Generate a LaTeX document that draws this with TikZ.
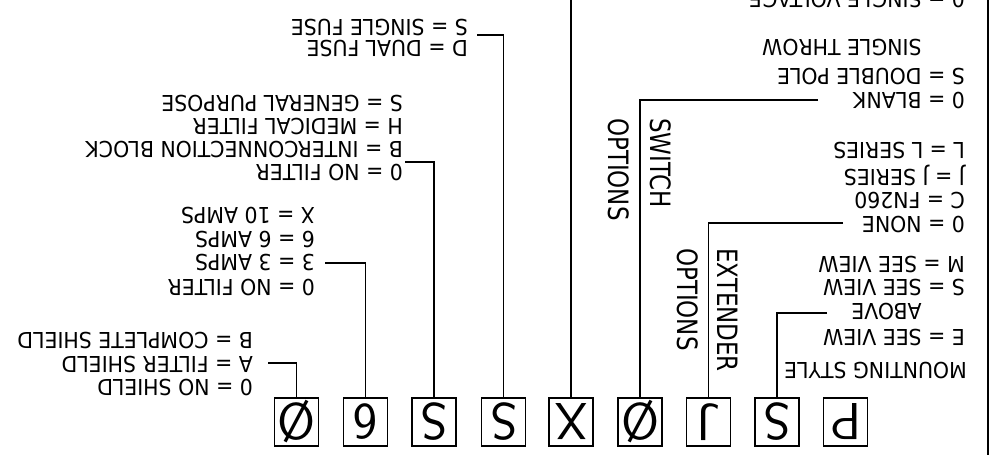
\documentclass[tikz,border=0pt]{standalone}
\usepackage{fontspec}
\usepackage{graphicx}
\newfontfamily\cadfont{DejaVu Sans}[FakeStretch=0.93]
\newfontfamily\cadtall{DejaVu Sans}[FakeStretch=0.82]
\newfontfamily\boxfont{lmsans17-regular.otf}[FakeStretch=1.0]
\tikzset{
  lbl/.style={rotate=180, anchor=base west, inner sep=0pt, font=\cadfont\fontsize{22}{22}\selectfont},
  vlbl/.style={rotate=-90, anchor=base west, inner sep=0pt, font=\cadtall\fontsize{28}{28}\selectfont},
  charbox/.style={draw, line width=1.3pt, minimum width=44pt, minimum height=48pt, inner sep=0pt, font=\boxfont\fontsize{52}{52}\selectfont},
  lead/.style={line width=1.3pt},
}
\newcommand\flipchar[1]{\rotatebox[origin=c]{180}{#1}}
\begin{document}
\begin{tikzpicture}[x=1pt,y=-1pt]
\useasboundingbox (0,0) rectangle (993,459);
\fill[white] (0,0) rectangle (993,459);
\clip (0,0) rectangle (993,459);

% code boxes
\node[charbox] (b1) at (296.5,422) {\flipchar{Ø}};
\node[charbox] (b2) at (365.5,422) {\flipchar{6}};
\node[charbox] (b3) at (434,422) {\flipchar{S}};
\node[charbox] (b4) at (503.5,422) {\flipchar{S}};
\node[charbox] (b5) at (571,422) {\flipchar{X}};
\node[charbox] (b6) at (640,422) {\flipchar{Ø}};
\node[charbox] (b7) at (708.5,422) {\flipchar{J}};
\node[charbox] (b8) at (777,422) {\flipchar{S}};
\node[charbox] (b9) at (845.5,422) {\flipchar{P}};

% shield
\node[lbl] (s1) at (253,332) {B = COMPLETE SHIELD};
\node[lbl] (s2) at (253,356) {A = FILTER SHIELD};
\node[lbl] (s3) at (253,379) {0 = NO SHIELD};
\coordinate (c1) at (268,363);
\draw[lead] (c1) -| (b1.north);

% amps
\node[lbl] (a1) at (315,207.5) {X = 10 AMPS};
\node[lbl] (a2) at (315,231) {6 = 6 AMPS};
\node[lbl] (a3) at (315,254) {3 = 3 AMPS};
\node[lbl] (a4) at (315,279) {0 = NO FILTER};
\coordinate (c2) at (325,263);
\draw[lead] (c2) -| (b2.north);

% filter
\node[lbl] (f1) at (403,95) {S = GENERAL PURPOSE};
\node[lbl] (f2) at (403,118) {H = MEDICAL FILTER};
\node[lbl] (f3) at (403,141) {B = INTERCONNECTION BLOCK};
\node[lbl] (f4) at (403,164) {0 = NO FILTER};
\coordinate (c3) at (405,162);
\draw[lead] (c3) -| (b3.north);

% fuse
\node[lbl] (u1) at (468,19) {S = SINGLE FUSE};
\node[lbl] (u2) at (468,40) {D = DUAL FUSE};
\coordinate (c4) at (477,35);
\draw[lead] (c4) -| (b4.north);

% X line to top
\coordinate (c5) at (571,-3);
\draw[lead] (c5) -- (b5.north);

% switch options
\node[lbl] (w0) at (965,-9) {0 = SINGLE VOLTAGE};
\node[lbl] (w1) at (965,39) {\phantom{S = }SINGLE THROW};
\node[lbl] (w2) at (965,68) {S = DOUBLE POLE};
\node[lbl] (w3) at (965,92) {0 = BLANK};
\coordinate (c6) at (818,100);
\draw[lead] (c6) -| (b6.north);
\node[vlbl] (v1) at (650,118) {SWITCH};
\node[vlbl] (v2) at (608,118) {OPTIONS};

% extender options
\node[lbl] (e1) at (965,142) {L = L SERIES};
\node[lbl] (e2) at (965,169) {J = J SERIES};
\node[lbl] (e3) at (965,192) {C = FN260};
\node[lbl] (e4) at (965,216) {0 = NONE};
\coordinate (c7) at (843,223);
\draw[lead] (c7) -| (b7.north);
\node[vlbl] (v3) at (717,248) {EXTENDER};
\node[vlbl] (v4) at (677,248) {OPTIONS};

% mounting style
\node[lbl] (m1) at (965,256) {M = SEE VIEW};
\node[lbl] (m2) at (965,279) {S = SEE VIEW};
\node[lbl] (m3) at (965,303) {\phantom{E = }ABOVE};
\node[lbl] (m4) at (965,329) {E = SEE VIEW};
\node[lbl] (m5) at (967,362) {MOUNTING STYLE};
\coordinate (c8) at (827,313);
\draw[lead] (c8) -| (b8.north);

% right border
\coordinate (r1) at (988,-3);
\coordinate (r2) at (988,455);
\draw[lead] (r1) -- (r2);
\end{tikzpicture}
\end{document}
